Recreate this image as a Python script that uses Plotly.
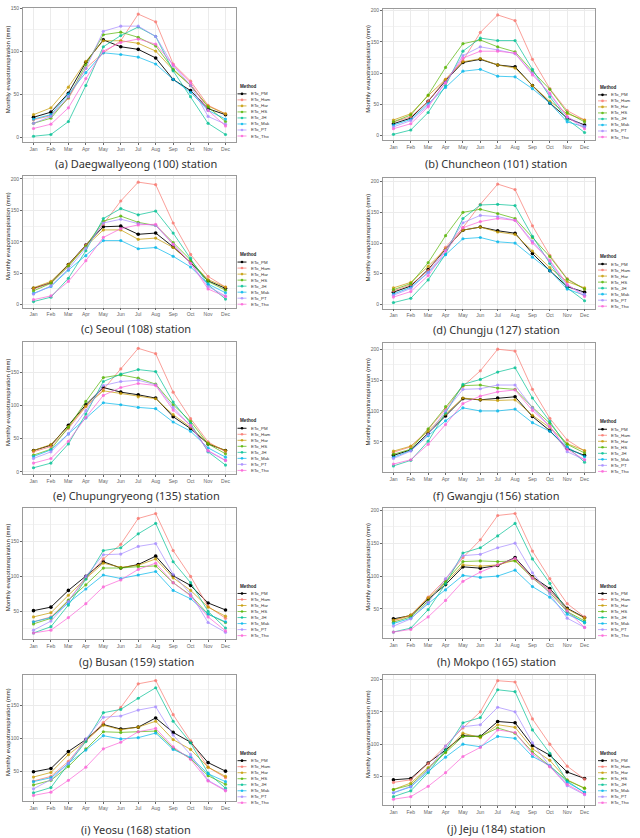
import plotly.graph_objects as go

W, H = 640, 838

months = ["Jan", "Feb", "Mar", "Apr", "May", "Jun", "Jul", "Aug", "Sep", "Oct", "Nov", "Dec"]
methods = ["ETo_PM", "ETo_Ham", "ETo_Har", "ETo_HS", "ETo_JH", "ETo_Mak", "ETo_PT", "ETo_Tho"]
colors = ["#000000", "#F8766D", "#C49A00", "#53B400", "#00C094", "#00B6EB", "#A58AFF", "#FB61D7"]

captions = [
    "(a) Daegwallyeong (100) station", "(b) Chuncheon (101) station",
    "(c) Seoul (108) station", "(d) Chungju (127) station",
    "(e) Chupungryeong (135) station", "(f) Gwangju (156) station",
    "(g) Busan (159) station", "(h) Mokpo (165) station",
    "(i) Yeosu (168) station", "(j) Jeju (184) station",
]

# rows follow the order of `methods`
daegwallyeong = [
    [23, 29, 51, 87, 113, 105, 102, 92, 67, 54, 33, 26],
    [20, 25, 45, 80, 98, 112, 143, 134, 85, 65, 37, 27],
    [26, 34, 58, 88, 112, 112, 109, 100, 78, 60, 36, 27],
    [16, 22, 46, 84, 119, 122, 116, 106, 79, 60, 35, 18],
    [1, 3, 18, 60, 105, 118, 128, 117, 77, 47, 16, 3],
    [21, 26, 50, 75, 98, 96, 93, 85, 67, 52, 31, 21],
    [16, 24, 47, 80, 123, 129, 129, 117, 83, 60, 24, 15],
    [10, 15, 34, 68, 100, 110, 114, 108, 84, 63, 31, 13],
]
chuncheon = [
    [19, 28, 55, 88, 117, 122, 113, 110, 80, 52, 28, 17],
    [22, 30, 55, 90, 120, 165, 193, 184, 122, 75, 40, 25],
    [25, 35, 64, 90, 118, 123, 113, 108, 80, 55, 35, 25],
    [22, 33, 65, 109, 147, 153, 142, 134, 103, 74, 37, 22],
    [2, 9, 37, 80, 135, 156, 152, 152, 106, 62, 26, 5],
    [17, 26, 51, 77, 103, 106, 95, 94, 75, 52, 22, 14],
    [14, 24, 48, 85, 128, 142, 137, 131, 100, 66, 30, 15],
    [11, 19, 46, 84, 124, 135, 135, 132, 97, 68, 30, 11],
]
seoul = [
    [26, 35, 64, 95, 124, 125, 112, 114, 92, 67, 38, 26],
    [25, 35, 62, 95, 128, 165, 195, 191, 130, 80, 45, 28],
    [27, 37, 64, 93, 119, 119, 104, 106, 91, 68, 40, 28],
    [22, 34, 61, 93, 133, 141, 131, 126, 99, 71, 37, 23],
    [5, 12, 42, 86, 137, 153, 143, 149, 114, 74, 32, 9],
    [18, 29, 55, 78, 102, 102, 89, 91, 77, 60, 33, 19],
    [17, 30, 57, 90, 130, 136, 129, 126, 96, 66, 29, 14],
    [8, 14, 37, 70, 107, 121, 127, 128, 96, 66, 25, 13],
]
chungju = [
    [20, 30, 57, 90, 121, 126, 120, 116, 83, 55, 29, 20],
    [22, 32, 55, 93, 125, 163, 196, 187, 128, 80, 42, 25],
    [27, 36, 62, 90, 121, 126, 118, 114, 87, 60, 37, 27],
    [24, 34, 68, 112, 150, 155, 148, 140, 109, 78, 41, 25],
    [3, 10, 40, 82, 140, 162, 163, 161, 111, 67, 27, 6],
    [17, 28, 52, 81, 107, 109, 102, 100, 77, 55, 25, 15],
    [15, 26, 52, 88, 133, 145, 143, 137, 103, 70, 31, 17],
    [12, 21, 47, 87, 125, 135, 140, 137, 100, 72, 33, 13],
]
chupungryeong = [
    [32, 40, 70, 101, 127, 120, 116, 111, 83, 65, 42, 32],
    [30, 38, 65, 98, 124, 155, 186, 178, 120, 80, 45, 30],
    [32, 41, 68, 99, 122, 118, 113, 110, 86, 67, 43, 32],
    [25, 34, 67, 106, 142, 146, 141, 132, 101, 76, 42, 27],
    [6, 13, 42, 87, 136, 147, 154, 151, 105, 73, 30, 10],
    [23, 33, 57, 81, 104, 101, 97, 95, 75, 61, 36, 22],
    [20, 30, 57, 92, 130, 136, 138, 131, 97, 69, 31, 17],
    [13, 20, 46, 82, 115, 127, 133, 130, 93, 70, 32, 17],
]
gwangju = [
    [28, 37, 64, 92, 120, 118, 121, 123, 91, 68, 39, 28],
    [33, 42, 70, 103, 140, 165, 200, 197, 135, 88, 53, 35],
    [35, 43, 67, 95, 121, 118, 117, 118, 93, 73, 47, 36],
    [30, 38, 71, 107, 141, 142, 137, 135, 106, 80, 46, 32],
    [11, 20, 51, 97, 143, 151, 163, 170, 121, 83, 42, 17],
    [25, 36, 60, 84, 105, 100, 100, 103, 81, 67, 41, 26],
    [23, 35, 62, 100, 135, 136, 142, 142, 105, 75, 34, 21],
    [14, 21, 46, 78, 112, 124, 131, 134, 101, 75, 38, 21],
]
busan = [
    [51, 56, 80, 100, 121, 112, 117, 129, 101, 87, 62, 52],
    [35, 42, 65, 97, 125, 146, 183, 190, 137, 100, 57, 40],
    [42, 48, 73, 97, 119, 113, 116, 125, 98, 80, 56, 43],
    [32, 40, 66, 88, 112, 112, 114, 115, 91, 73, 46, 34],
    [19, 28, 59, 96, 137, 141, 161, 176, 121, 91, 50, 26],
    [35, 41, 62, 82, 102, 97, 102, 107, 80, 68, 46, 35],
    [23, 36, 64, 100, 131, 132, 143, 147, 103, 75, 34, 20],
    [19, 23, 41, 61, 85, 95, 110, 119, 91, 72, 42, 22],
]
mokpo = [
    [35, 40, 65, 87, 114, 112, 116, 128, 99, 81, 51, 37],
    [32, 40, 68, 95, 128, 155, 192, 195, 138, 96, 58, 38],
    [33, 41, 67, 90, 117, 115, 117, 124, 98, 78, 50, 36],
    [30, 38, 62, 92, 122, 123, 122, 123, 97, 75, 46, 32],
    [15, 21, 49, 88, 135, 143, 161, 180, 126, 89, 45, 29],
    [28, 36, 58, 79, 101, 98, 100, 109, 84, 68, 42, 30],
    [24, 35, 60, 96, 131, 133, 143, 150, 105, 73, 36, 22],
    [15, 19, 38, 63, 92, 106, 117, 127, 97, 78, 47, 22],
]
yeosu = [
    [49, 54, 80, 98, 121, 114, 117, 131, 109, 94, 63, 50],
    [35, 42, 65, 96, 124, 147, 183, 188, 136, 96, 56, 40],
    [41, 48, 75, 96, 120, 113, 117, 126, 98, 83, 56, 42],
    [29, 36, 57, 84, 110, 109, 110, 111, 85, 69, 43, 30],
    [17, 25, 61, 95, 139, 144, 161, 177, 126, 93, 47, 24],
    [34, 40, 62, 82, 104, 99, 101, 108, 83, 71, 46, 34],
    [23, 37, 62, 99, 132, 134, 143, 148, 105, 75, 36, 21],
    [13, 18, 36, 56, 84, 94, 110, 115, 87, 68, 35, 20],
]
jeju = [
    [45, 47, 71, 91, 113, 112, 135, 133, 98, 83, 57, 47],
    [41, 45, 70, 97, 125, 150, 198, 196, 139, 100, 66, 46],
    [30, 40, 64, 88, 117, 110, 130, 126, 93, 75, 45, 32],
    [30, 37, 62, 87, 112, 112, 125, 117, 88, 66, 44, 32],
    [19, 28, 56, 91, 133, 141, 184, 181, 122, 86, 43, 25],
    [25, 34, 58, 80, 100, 96, 112, 109, 81, 67, 41, 26],
    [25, 35, 60, 97, 127, 130, 157, 150, 102, 66, 36, 22],
    [15, 19, 35, 56, 81, 95, 122, 118, 85, 65, 38, 23],
]

stations = [daegwallyeong, chuncheon, seoul, chungju, chupungryeong,
            gwangju, busan, mokpo, yeosu, jeju]

# panel boxes in pixels: (left, right, top, bottom)
boxes = [
    (23, 236, 5, 140), (383, 595, 6, 138),
    (23, 236, 174, 306), (383, 595, 176, 307),
    (23, 236, 341, 473), (383, 595, 342, 471),
    (23, 236, 507, 639), (383, 595, 507, 638),
    (23, 236, 675, 802), (383, 595, 675, 806),
]
caption_y = [161, 161, 327, 328, 495, 495, 662, 662, 830, 829]

fx = lambda px: px / W
fy = lambda py: 1 - py / H


def rgba(hexcol, a):
    h = hexcol.lstrip("#")
    r, g, b = int(h[0:2], 16), int(h[2:4], 16), int(h[4:6], 16)
    return f"rgba({r},{g},{b},{a})"


fig = go.Figure()
layout = {}
annotations = []
shapes = []

for i, (data, box) in enumerate(zip(stations, boxes)):
    n = i + 1
    xname = "x" if n == 1 else f"x{n}"
    yname = "y" if n == 1 else f"y{n}"
    xkey = "xaxis" if n == 1 else f"xaxis{n}"
    ykey = "yaxis" if n == 1 else f"yaxis{n}"
    left, right, top, bottom = box

    for m, (name, col) in enumerate(zip(methods, colors)):
        c = col if m == 0 else rgba(col, 0.78)
        fig.add_trace(go.Scatter(
            x=months, y=data[m], mode="lines+markers", name=name,
            xaxis=xname, yaxis=yname, showlegend=False,
            line=dict(color=c, width=0.9),
            marker=dict(color=c, size=3.2 if m else 3.6, symbol="circle"),
        ))

    allv = [v for row in data for v in row]
    lo, hi = min(allv), max(allv)
    pad = 0.05 * (hi - lo)

    common = dict(
        showline=True, mirror=True, linecolor="#9a9a9a", linewidth=0.8,
        zeroline=False, ticks="outside", ticklen=2, tickwidth=0.6,
        tickcolor="#666666", tickfont=dict(size=5, color="#666666",
                                           family="Liberation Sans"),
        showgrid=True, gridcolor="#EBEBEB", gridwidth=0.6,
    )
    layout[xkey] = dict(common, domain=[fx(left), fx(right)], anchor=yname,
                        type="category", categoryorder="array",
                        categoryarray=months, range=[-0.6, 11.6])
    layout[ykey] = dict(common, domain=[fy(bottom), fy(top)], anchor=xname,
                        range=[lo - pad, hi + pad], tick0=0, dtick=50,
                        minor=dict(dtick=25, showgrid=True,
                                   gridcolor="#F3F3F3", gridwidth=0.4))

    # y-axis title
    tx = 8 if left < 300 else 368
    annotations.append(dict(
        text="Monthly evapotranspiration (mm)", xref="paper", yref="paper",
        x=fx(tx), y=fy((top + bottom) / 2 - 6), showarrow=False,
        textangle=-90, xanchor="center", yanchor="middle",
        font=dict(size=6, color="#222222", family="Liberation Sans"),
    ))
    # caption
    cx = 136 if left < 300 else 496
    annotations.append(dict(
        text=captions[i], xref="paper", yref="paper",
        x=fx(cx), y=fy(caption_y[i]), showarrow=False,
        xanchor="center", yanchor="middle",
        font=dict(size=11, color="#333333", family="Noto Sans"),
    ))

    # legend (drawn manually to match the compact ggplot key)
    lx = 237.5 if left < 300 else 598
    ly = top + 79
    annotations.append(dict(
        text="<b>Method</b>", xref="paper", yref="paper",
        x=fx(lx), y=fy(ly), showarrow=False, xanchor="left",
        yanchor="middle", font=dict(size=4.6, color="#222222",
                                    family="Liberation Sans"),
    ))
    for m, (name, col) in enumerate(zip(methods, colors)):
        c = col if m == 0 else rgba(col, 0.78)
        yy = ly + 7.3 + 6.05 * m
        shapes.append(dict(type="line", xref="paper", yref="paper",
                           x0=fx(lx), x1=fx(lx + 9), y0=fy(yy), y1=fy(yy),
                           line=dict(color=c, width=0.9)))
        shapes.append(dict(type="circle", xref="paper", yref="paper",
                           x0=fx(lx + 3.2), x1=fx(lx + 5.8),
                           y0=fy(yy + 1.3), y1=fy(yy - 1.3),
                           fillcolor=c, line=dict(width=0)))
        annotations.append(dict(
            text=name, xref="paper", yref="paper",
            x=fx(lx + 11), y=fy(yy), showarrow=False, xanchor="left",
            yanchor="middle", font=dict(size=4.4, color="#333333",
                                        family="Liberation Sans"),
        ))

fig.update_layout(
    width=W, height=H, margin=dict(l=0, r=0, t=0, b=0),
    paper_bgcolor="white", plot_bgcolor="white",
    annotations=annotations, shapes=shapes, showlegend=False,
    **layout,
)

fig.write_html("out.html")
